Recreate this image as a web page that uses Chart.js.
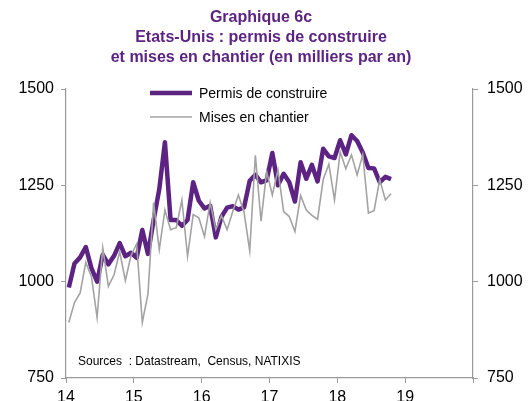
<!DOCTYPE html>
<html><head><meta charset="utf-8">
<script src="https://cdn.jsdelivr.net/npm/chart.js@4"></script>
<style>html,body{margin:0;padding:0;background:#fff}#wrap{width:528px;height:401px;position:relative;overflow:hidden}</style>
</head><body><div id="wrap"><canvas id="c" width="528" height="401"></canvas></div>
<script>
// Monthly data, Jan 2014 - Oct 2018 (thousands, annualised)
const startYear = 14;
const permis = [985,1047,1063,1090,1035,1000,1070,1045,1067,1100,1066,1075,
  1062,1134,1072,1160,1240,1362,1160,1160,1145,1160,1258,1210,
  1190,1197,1115,1168,1192,1196,1187,1193,1262,1277,1258,1263,
  1334,1250,1280,1258,1208,1310,1267,1303,1260,1345,1325,1321,
  1367,1330,1380,1365,1335,1295,1294,1258,1272,1266];
const mises = [894,946,971,1050,1013,907,1088,988,1018,1078,1003,1068,
  1098,894,968,1205,1083,1186,1135,1140,1212,1066,1174,1166,
  1117,1205,1135,1171,1135,1182,1225,1180,1080,1328,1157,1285,
  1225,1290,1182,1169,1130,1224,1186,1172,1162,1265,1305,1212,
  1337,1293,1329,1277,1330,1178,1184,1265,1212,1228];
const yTicks = [750,1000,1250,1500];
const yTickLabels = ['750','1000','1250','1500'];
const xTicks = [14,15,16,17,18,19,20];
const xTickLabels = ['14','15','16','17','18','19',''];
const titleLines = ['Graphique 6c','Etats-Unis : permis de construire','et mises en chantier (en milliers par an)'];
const seriesNames = ['Permis de construire','Mises en chantier'];
const sourceText = 'Sources  : Datastream,  Census, NATIXIS';

const PURPLE = '#5c2383';
const GREY = '#a3a3a3';
const AXIS = '#9a9a9a';
const FONT = "'Liberation Sans', Arial, sans-serif";

const toPts = arr => arr.map((v, i) => ({x: startYear + (i + 0.5) / 12, y: v}));

const overlay = {
  id: 'overlay',
  afterDraw(chart) {
    const ctx = chart.ctx;
    ctx.save();
    // Title
    ctx.fillStyle = PURPLE;
    ctx.font = 'bold 16px ' + FONT;
    ctx.textAlign = 'center';
    ctx.textBaseline = 'middle';
    const ty = [18, 38, 58];
    titleLines.forEach((t, i) => ctx.fillText(t, 261, ty[i]));
    // Legend
    const ds = chart.data.datasets;
    const ly = [93, 117];
    ds.forEach((d, i) => {
      ctx.strokeStyle = d.borderColor;
      ctx.lineWidth = d.borderWidth;
      ctx.lineCap = 'butt';
      ctx.beginPath();
      ctx.moveTo(150, ly[i]);
      ctx.lineTo(192, ly[i]);
      ctx.stroke();
      ctx.fillStyle = '#000';
      ctx.font = '14px ' + FONT;
      ctx.textAlign = 'left';
      ctx.fillText(d.label, 199, ly[i] + 1);
    });
    // Source
    ctx.font = '12px ' + FONT;
    ctx.fillStyle = '#000';
    ctx.textAlign = 'left';
    ctx.fillText(sourceText, 78, 362);
    ctx.restore();
  }
};

const yScale = (pos, pad, w) => ({
  type: 'linear', position: pos, min: 750, max: 1500,
  afterBuildTicks: s => { s.ticks = yTicks.map(v => ({value: v})); },
  afterFit: s => { s.width = w; },
  grid: {drawOnChartArea: false, drawTicks: true, tickLength: 5, color: AXIS},
  border: {display: true, color: AXIS, width: 1.2},
  ticks: {color: '#000', font: {size: 16, family: FONT}, padding: pad,
    callback: v => { const k = yTicks.indexOf(v); return k >= 0 ? yTickLabels[k] : ''; }}
});

new Chart(document.getElementById('c'), {
  type: 'line',
  data: {
    datasets: [
      {label: seriesNames[0], data: toPts(permis), borderColor: PURPLE, borderWidth: 4.5,
       pointRadius: 0, tension: 0, order: 1, borderJoinStyle: 'round'},
      {label: seriesNames[1], data: toPts(mises), borderColor: GREY, borderWidth: 1.6,
       pointRadius: 0, tension: 0, order: 0}
    ]
  },
  options: {
    responsive: false, animation: false, devicePixelRatio: 1,
    layout: {padding: {top: 89, left: 0, right: 0, bottom: 0}},
    plugins: {legend: {display: false}, title: {display: false}, tooltip: {enabled: false}},
    scales: {
      x: {
        type: 'linear', min: 14, max: 20,
        afterBuildTicks: s => { s.ticks = xTicks.map(v => ({value: v})); },
        afterFit: s => { s.height = 23; },
        grid: {drawOnChartArea: false, drawTicks: true, tickLength: 5, color: AXIS},
        border: {display: true, color: AXIS, width: 1.2},
        ticks: {color: '#000', font: {size: 16, family: FONT}, padding: 5, maxRotation: 0, autoSkip: false,
          callback: v => { const k = xTicks.indexOf(v); return k >= 0 ? xTickLabels[k] : ''; }}
      },
      y: yScale('left', 7, 66),
      y2: yScale('right', 9, 55)
    }
  },
  plugins: [overlay]
});
</script>
</body></html>
